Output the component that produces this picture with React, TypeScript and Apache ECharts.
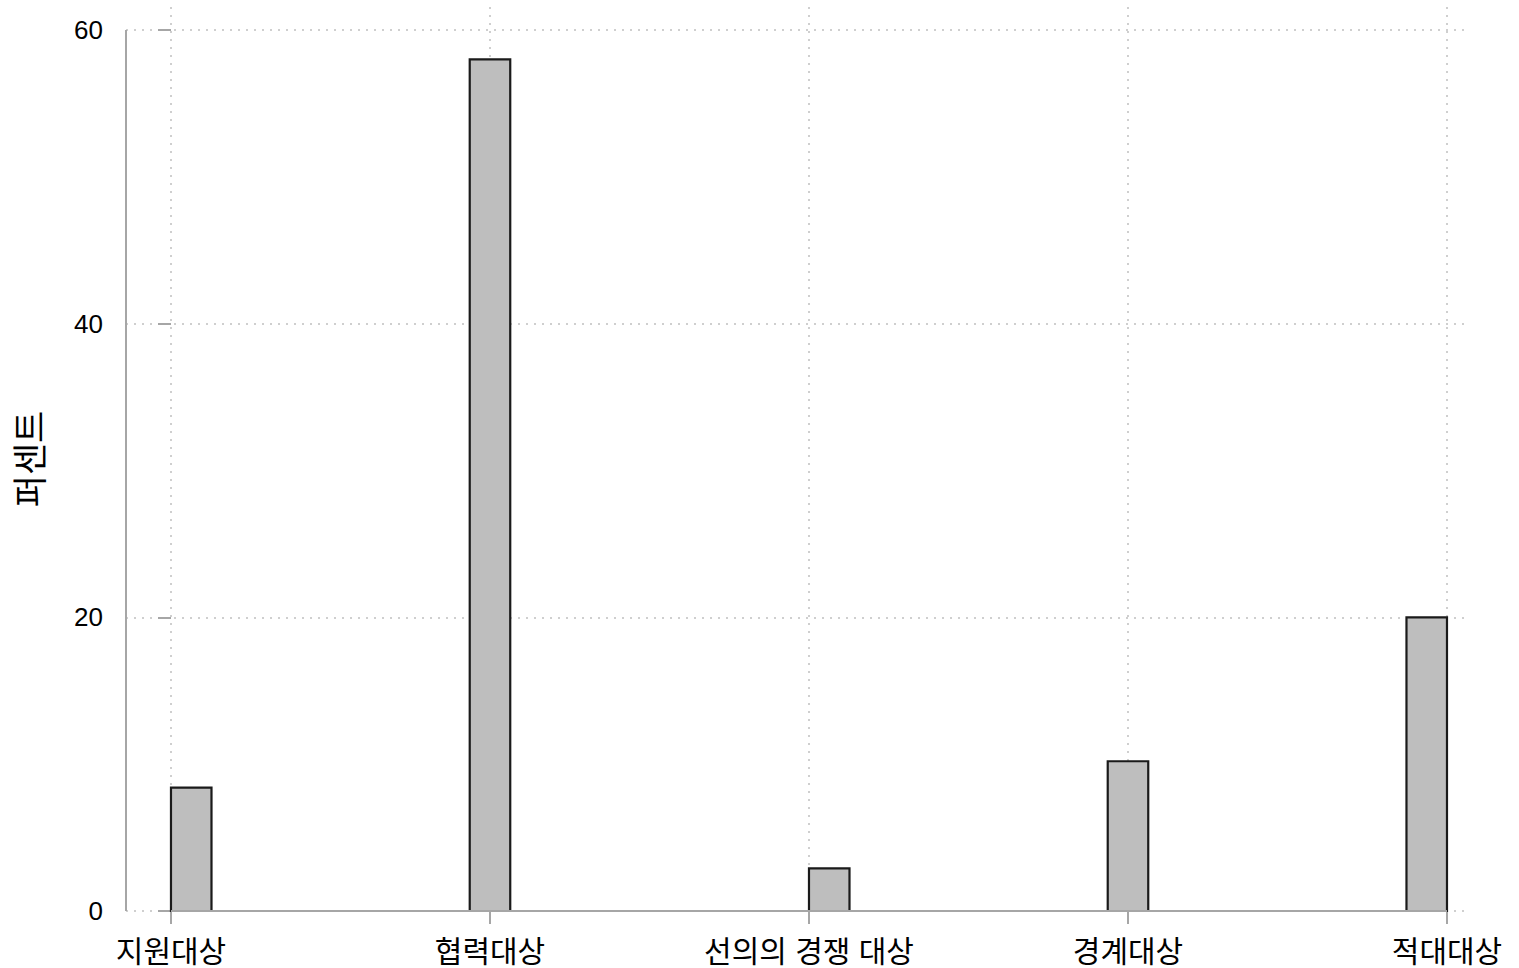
import React, { useEffect, useRef } from "react";
import * as echarts from "echarts";

// Categories (x axis), percent values, and how each bar sits on its tick
// (1 = starts at the tick, 0 = centred on it, -1 = ends at it), as in the reference.
const categories: string[] = ["지원대상", "협력대상", "선의의 경쟁 대상", "경계대상", "적대대상"];
const values: number[] = [8.4, 58.0, 2.9, 10.2, 20.0];
const barAlign: number[] = [1, 0, 1, 0, -1];
const yTicks: number[] = [0, 20, 40, 60];
const yTitle = "퍼센트";

const FONT = "'Liberation Sans', Arial, 'Noto Sans CJK KR', sans-serif";
const AXIS_GRAY = "#a6a6a6";
const GRID_GRAY = "#cfcfcf";

export default function App() {
  const ref = useRef<HTMLDivElement | null>(null);

  useEffect(() => {
    if (!ref.current) return;
    const chart = echarts.init(ref.current, undefined, { renderer: "svg" });

    const xTicks = categories.map((_, i) => i);
    const barW = 0.127;
    const xMin = -0.141;
    const xMax = categories.length - 1 + 0.069;
    const yMax = 61.57;

    const option: any = {
      animation: false,
      backgroundColor: "#ffffff",
      grid: {
        left: 126,
        right: 50,
        top: 7,
        bottom: 57,
        containLabel: false,
        outerBoundsMode: "none",
      },
      xAxis: {
        type: "value",
        min: xMin,
        max: xMax,
        axisLine: { show: false },
        axisTick: {
          show: true,
          customValues: xTicks,
          length: 13,
          lineStyle: { color: AXIS_GRAY, width: 2 },
        },
        axisLabel: {
          customValues: xTicks,
          formatter: (v: number) => categories[Math.round(v)] ?? "",
          margin: 25,
          fontSize: 30,
          color: "#000",
          fontFamily: FONT,
        },
        splitLine: {
          show: true,
          lineStyle: { color: GRID_GRAY, width: 2, type: [2, 6] },
        },
      },
      yAxis: {
        type: "value",
        min: 0,
        max: yMax,
        name: yTitle,
        nameLocation: "middle",
        nameGap: 78,
        nameTextStyle: { fontSize: 35, color: "#000", fontFamily: FONT },
        axisLine: { show: false },
        axisTick: {
          show: true,
          customValues: yTicks,
          length: 13,
          lineStyle: { color: AXIS_GRAY, width: 2 },
        },
        axisLabel: {
          customValues: yTicks,
          margin: 23,
          fontSize: 26,
          color: "#000",
          fontFamily: FONT,
        },
        splitLine: {
          show: true,
          lineStyle: { color: GRID_GRAY, width: 2, type: [2, 6] },
        },
      },
      series: [
        {
          type: "custom",
          data: categories.map((_, i) => [i, values[i], barAlign[i]]),
          encode: { x: 0, y: 1 },
          renderItem: (_params: any, api: any) => {
            const i = api.value(0);
            const v = api.value(1);
            const s = api.value(2);
            const left = i - barW / 2 + (s * barW) / 2;
            const p0 = api.coord([left, v]);
            const p1 = api.coord([left + barW, 0]);
            return {
              type: "rect",
              shape: { x: p0[0], y: p0[1], width: p1[0] - p0[0], height: p1[1] - p0[1] },
              style: { fill: "#bebebe", stroke: "#1a1a1a", lineWidth: 2.2 },
            };
          },
          markLine: {
            silent: true,
            symbol: ["none", "none"],
            label: { show: false },
            lineStyle: { color: AXIS_GRAY, width: 2, type: "solid" },
            data: [
              [{ coord: [xMin, yTicks[0]] }, { coord: [xMin, yTicks[yTicks.length - 1]] }],
              [{ coord: [xTicks[0], 0] }, { coord: [xTicks[xTicks.length - 1], 0] }],
            ],
          },
          z: 3,
        },
      ],
    };

    chart.setOption(option);
    return () => chart.dispose();
  }, []);

  return (
    <div
      ref={ref}
      style={{ position: "absolute", left: 0, top: 0, width: 1519, height: 968 }}
    />
  );
}
